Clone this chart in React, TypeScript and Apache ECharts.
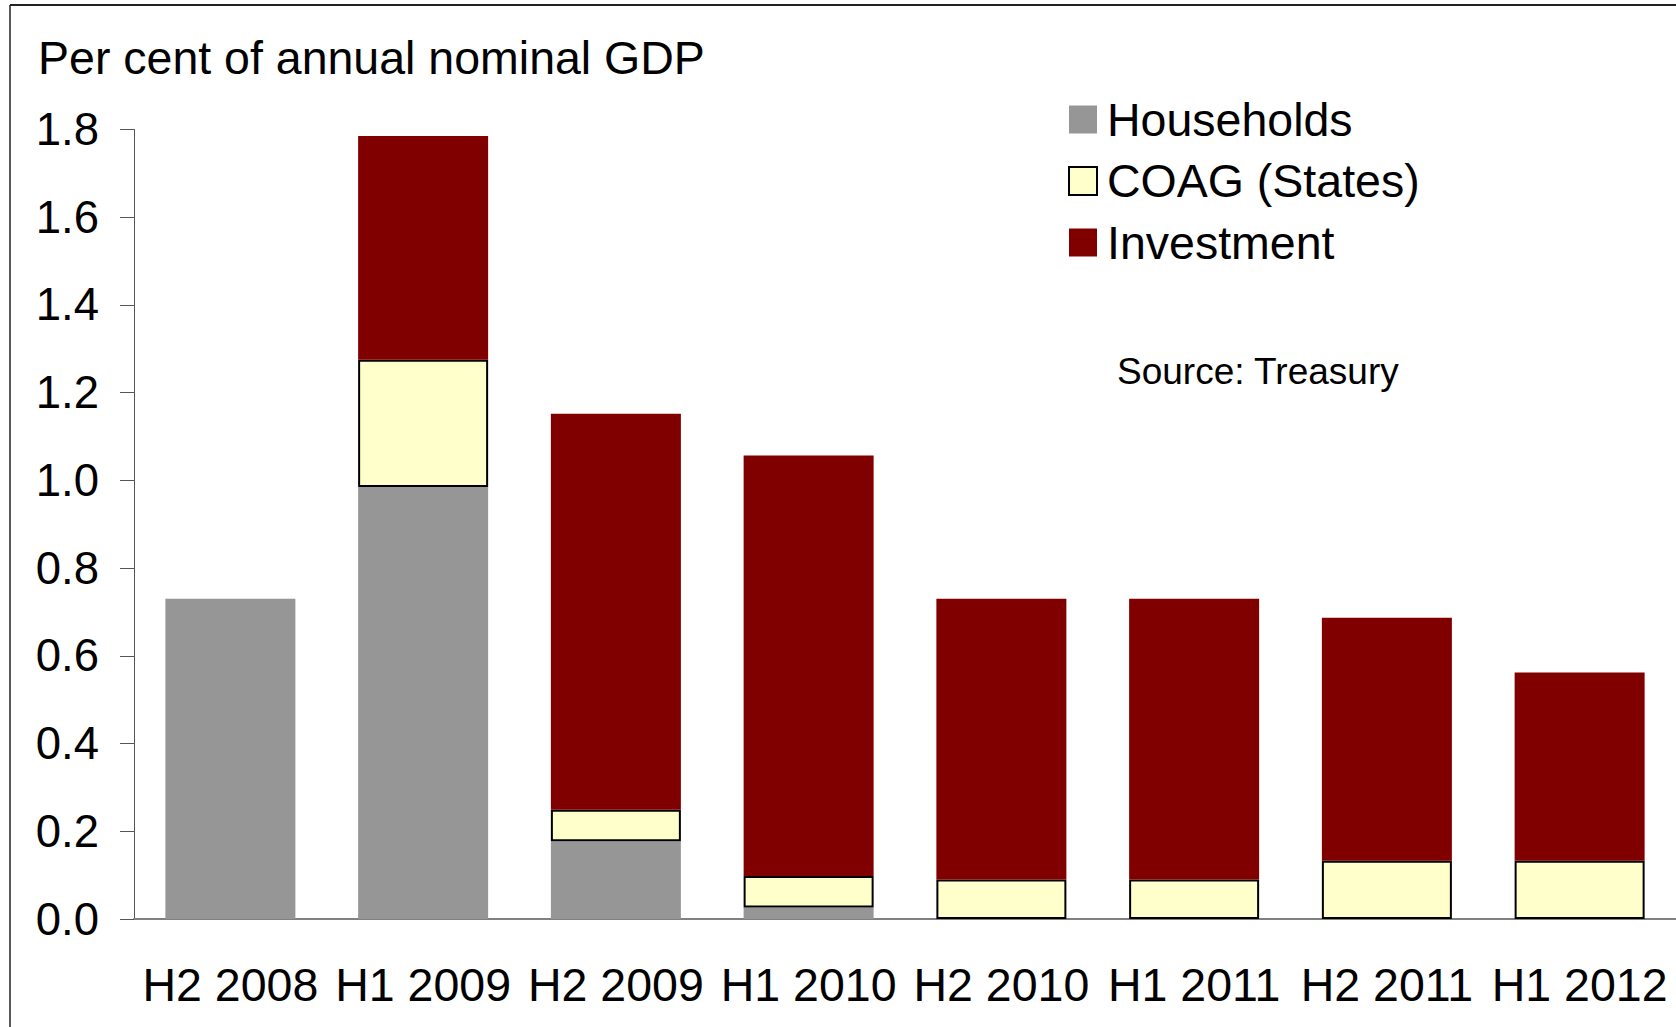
import React, { useEffect, useRef } from "react";
import * as echarts from "echarts";

const categories = ["H2 2008", "H1 2009", "H2 2009", "H1 2010", "H2 2010", "H1 2011", "H2 2011", "H1 2012"];
const households: (number | null)[] = [0.73, 0.985, 0.177, 0.026, null, null, null, null];
const coag: (number | null)[] = [null, 0.29, 0.072, 0.072, 0.09, 0.09, 0.133, 0.133];
const investment: (number | null)[] = [null, 0.51, 0.903, 0.959, 0.64, 0.64, 0.554, 0.429];
const yTicks = { min: 0, max: 1.8, interval: 0.2 };

const FONT = "'Liberation Sans', Arial, sans-serif";

export default function App() {
  const ref = useRef<HTMLDivElement>(null);
  useEffect(() => {
    if (!ref.current) return;
    const chart = echarts.init(ref.current, undefined, { renderer: "svg" });
    chart.setOption({
      animation: false,
      backgroundColor: "#ffffff",
      textStyle: { fontFamily: FONT },
      title: {
        text: "Per cent of annual nominal GDP",
        left: 38,
        top: 34,
        padding: 0,
        textStyle: { fontFamily: FONT, fontSize: 46.5, fontWeight: "normal", color: "#000" },
      },
      legend: {
        orient: "vertical",
        left: 1068,
        top: 96,
        padding: 0,
        itemWidth: 28,
        itemHeight: 28,
        itemGap: 14.5,
        icon: "rect",
        data: ["Households", "COAG (States)", "Investment"],
        textStyle: { fontFamily: FONT, fontSize: 46.5, color: "#000", padding: [0, 0, 0, 5] },
      },
      grid: { left: 134, top: 129.5, width: 1543.4, height: 789.5, containLabel: false },
      xAxis: {
        type: "category",
        data: categories,
        axisLine: { lineStyle: { color: "#808080", width: 2 } },
        axisTick: { inside: true, length: 11, lineStyle: { color: "#555", width: 1 } },
        axisLabel: { fontFamily: FONT, fontSize: 46.5, color: "#000", margin: 42, interval: 0 },
        splitLine: { show: false },
      },
      yAxis: {
        type: "value",
        min: yTicks.min,
        max: yTicks.max,
        interval: yTicks.interval,
        axisLine: { show: true, lineStyle: { color: "#555", width: 1 } },
        axisTick: { show: true, inside: false, length: 14, lineStyle: { color: "#555", width: 1 } },
        axisLabel: {
          fontFamily: FONT,
          fontSize: 45.5,
          color: "#000",
          margin: 35,
          formatter: (v: number) => v.toFixed(1),
        },
        splitLine: { show: false },
      },
      graphic: [
        { type: "line", shape: { x1: 10, y1: 5, x2: 1676, y2: 5 }, style: { stroke: "#222", lineWidth: 2 } },
        { type: "line", shape: { x1: 10, y1: 5, x2: 10, y2: 1027 }, style: { stroke: "#222", lineWidth: 1.5 } },
        {
          type: "text",
          x: 1117,
          y: 371,
          style: {
            text: "Source: Treasury",
            fontFamily: FONT,
            fontSize: 37,
            fill: "#000",
            textVerticalAlign: "middle",
          },
        },
      ],
      series: [
        {
          name: "Households",
          type: "bar",
          stack: "total",
          barWidth: 130,
          data: households,
          itemStyle: { color: "#969696" },
        },
        {
          name: "COAG (States)",
          type: "bar",
          stack: "total",
          barWidth: 130,
          data: coag,
          itemStyle: { color: "#FFFFCC", borderColor: "#000", borderWidth: 2 },
        },
        {
          name: "Investment",
          type: "bar",
          stack: "total",
          barWidth: 130,
          data: investment,
          itemStyle: { color: "#800000" },
        },
      ],
    });
    return () => chart.dispose();
  }, []);
  return (
    <div
      ref={ref}
      style={{ position: "fixed", left: 0, top: 0, width: 1676, height: 1027, background: "#fff" }}
    />
  );
}
